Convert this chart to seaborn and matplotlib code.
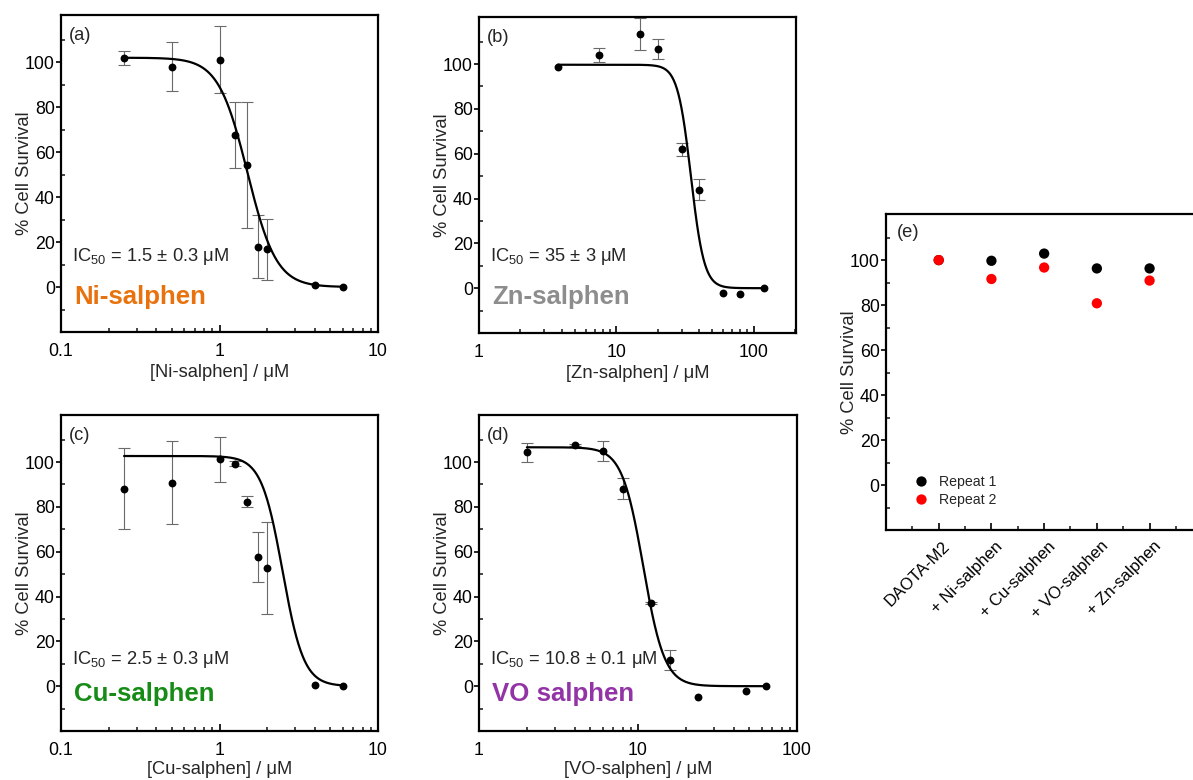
import numpy as np
import pandas as pd
import matplotlib
matplotlib.use("Agg")
import matplotlib.pyplot as plt
import matplotlib.transforms as mtransforms
from matplotlib.ticker import FixedLocator, FuncFormatter, NullFormatter, LogLocator
import seaborn as sns

# ---- dose-response data: concentration (uM), % survival, error ----
ni_conc = [0.25, 0.5, 1.0, 1.25, 1.5, 1.75, 2.0, 4.0, 6.0]
ni_surv = [101.9, 98.0, 101.2, 67.6, 54.4, 17.9, 16.7, 0.7, 0.0]
ni_err = [3.0, 11.0, 15.0, 14.5, 28.0, 14.0, 13.4, 0.0, 0.0]

zn_conc = [3.75, 7.5, 15.0, 20.0, 30.0, 40.0, 60.0, 80.0, 120.0]
zn_surv = [98.9, 104.0, 113.4, 106.6, 62.0, 43.9, -2.1, -2.4, 0.0]
zn_err = [0.0, 3.0, 7.0, 4.5, 3.0, 4.6, 0.0, 0.0, 0.0]

cu_conc = [0.25, 0.5, 1.0, 1.25, 1.5, 1.75, 2.0, 4.0, 6.0]
cu_surv = [88.2, 90.8, 101.3, 99.3, 82.4, 57.6, 52.8, 0.4, 0.0]
cu_err = [18.0, 18.4, 10.0, 1.0, 2.5, 11.0, 20.6, 0.0, 0.0]

vo_conc = [2.0, 4.0, 6.0, 8.0, 12.0, 16.0, 24.0, 48.0, 64.0]
vo_surv = [104.3, 107.6, 105.1, 88.2, 37.0, 11.8, -4.8, -2.1, 0.0]
vo_err = [4.3, 0.5, 4.5, 4.6, 0.5, 4.4, 0.0, 0.0, 0.0]

# ---- four-parameter logistic fits (Ni, Zn, Cu, VO) ----
fit_top = [102.0, 99.7, 102.7, 106.6]
fit_bottom = [0.0, 0.0, 0.0, 0.0]
fit_ic50 = [1.5, 35.0, 2.5, 10.8]
fit_ic50_err = [0.3, 3.0, 0.3, 0.1]
fit_hill = [4.75, 9.0, 6.5, 6.5]

# ---- combination screen ----
combo_labels = ["DAOTA-M2", "+ Ni-salphen", "+ Cu-salphen", "+ VO-salphen", "+ Zn-salphen"]
repeat1 = [100.0, 99.7, 102.9, 96.3, 96.3]
repeat2 = [100.0, 91.6, 96.7, 80.8, 90.9]

sns.set_theme(style="ticks")
plt.rcParams["font.family"] = ["Liberation Sans", "DejaVu Sans"]
plt.rcParams["mathtext.default"] = "regular"

TICK_FS = 12.8
LABEL_FS = 13.2
W, H = 1193, 780

fig = plt.figure(figsize=(W / 100, H / 100), dpi=100)


def px_axes(left, top, right, bottom):
    return fig.add_axes([left / W, 1 - bottom / H, (right - left) / W, (bottom - top) / H])


def style_frame(ax, ylim):
    for sp in ax.spines.values():
        sp.set_linewidth(1.6)
        sp.set_color("black")
    ax.set_ylim(*ylim)
    ax.set_yticks([0, 20, 40, 60, 80, 100])
    ax.yaxis.set_minor_locator(FixedLocator([-10, 10, 30, 50, 70, 90, 110]))
    ax.tick_params(axis="y", which="major", direction="out", length=3.5, width=1.2,
                   pad=1.0, labelsize=TICK_FS, colors="black")
    ax.tick_params(axis="y", which="minor", direction="in", length=3, width=1.2)
    ax.tick_params(axis="x", which="major", direction="in", length=5, width=1.2,
                   pad=8, labelsize=TICK_FS, colors="black")
    ax.tick_params(axis="x", which="minor", direction="in", length=3, width=1.2)
    ax.set_ylabel("% Cell Survival", fontsize=LABEL_FS, labelpad=-5.5)


def dose_panel(ax, conc, surv, err, k, xlim, xlabel, letter, name, name_color, txt_y,
               name_y, xlabelpad):
    conc = np.asarray(conc, float)
    surv = np.asarray(surv, float)
    err = np.asarray(err, float)
    ax.set_xscale("log")

    has_err = err > 0
    ax.errorbar(conc[has_err], surv[has_err], yerr=err[has_err], fmt="none",
                ecolor="#6a6a6a", elinewidth=0.8, capsize=4.5, capthick=0.8, zorder=1)

    xs = np.geomspace(conc.min(), conc.max(), 400)
    top, bot, ic50, hill = fit_top[k], fit_bottom[k], fit_ic50[k], fit_hill[k]
    curve = pd.DataFrame({"conc": xs, "surv": bot + (top - bot) / (1 + (xs / ic50) ** hill)})
    sns.lineplot(data=curve, x="conc", y="surv", ax=ax, color="black", linewidth=1.6,
                 errorbar=None, zorder=2)

    pts = pd.DataFrame({"conc": conc, "surv": surv})
    sns.scatterplot(data=pts, x="conc", y="surv", ax=ax, color="black", s=32,
                    linewidth=0, zorder=3)

    ax.set_xlim(*xlim)
    ax.xaxis.set_major_locator(LogLocator(base=10))
    ax.xaxis.set_minor_locator(LogLocator(base=10, subs=np.arange(2, 10)))
    ax.xaxis.set_major_formatter(FuncFormatter(lambda v, p: f"{v:g}"))
    ax.xaxis.set_minor_formatter(NullFormatter())
    style_frame(ax, (-20, 121))
    ax.set_xlabel(xlabel, fontsize=LABEL_FS, labelpad=xlabelpad)

    ax.text(0.025, 0.935, letter, transform=ax.transAxes, fontsize=LABEL_FS, va="center")
    ax.text(0.036, txt_y,
            f"IC$_{{50}}$ = {fit_ic50[k]:g} ± {fit_ic50_err[k]:g} μM",
            transform=ax.transAxes, fontsize=LABEL_FS, va="center")
    ax.text(0.041, name_y, name, transform=ax.transAxes, fontsize=18.6,
            fontweight="bold", color=name_color, va="center")


ax_a = px_axes(61, 15, 378, 332)
dose_panel(ax_a, ni_conc, ni_surv, ni_err, 0, (0.1, 10), "[Ni-salphen] / μM", "(a)",
           "Ni-salphen", "#E8730E", 0.238, 0.111, 3)

ax_b = px_axes(479, 17, 796, 333)
dose_panel(ax_b, zn_conc, zn_surv, zn_err, 1, (1, 204), "[Zn-salphen] / μM", "(b)",
           "Zn-salphen", "#8D8D8D", 0.241, 0.115, 3)

ax_c = px_axes(61, 415, 378, 731)
dose_panel(ax_c, cu_conc, cu_surv, cu_err, 2, (0.1, 10), "[Cu-salphen] / μM", "(c)",
           "Cu-salphen", "#168C16", 0.227, 0.117, 1)

ax_d = px_axes(479, 415, 797, 731)
dose_panel(ax_d, vo_conc, vo_surv, vo_err, 3, (1, 100), "[VO-salphen] / μM", "(d)",
           "VO salphen", "#9234A6", 0.227, 0.117, 1)

# ---- (e) combination screen ----
ax_e = px_axes(886, 214, 1255, 530)
combo = pd.DataFrame({
    "treatment": combo_labels * 2,
    "survival": repeat1 + repeat2,
    "repeat": ["Repeat 1"] * len(repeat1) + ["Repeat 2"] * len(repeat2),
})
sns.scatterplot(data=combo, x="treatment", y="survival", hue="repeat",
                palette={"Repeat 1": "black", "Repeat 2": "red"}, s=55, linewidth=0,
                ax=ax_e, zorder=3)
ax_e.set_xlim(-1, 6)
ax_e.set_xticks(range(len(combo_labels)))
ax_e.set_xticklabels(combo_labels, rotation=45, ha="right", va="center",
                     rotation_mode="anchor")
ax_e.xaxis.set_minor_locator(FixedLocator(np.arange(-0.5, 6, 1.0)))
style_frame(ax_e, (-20, 120.5))
ax_e.tick_params(axis="x", which="major", pad=10, labelsize=12)
shift = mtransforms.ScaledTranslation(9 / 100, 0, fig.dpi_scale_trans)
for lab in ax_e.get_xticklabels():
    lab.set_transform(lab.get_transform() + shift)
ax_e.set_xlabel("")
ax_e.text(0.03, 0.94, "(e)", transform=ax_e.transAxes, fontsize=LABEL_FS, va="center")
ax_e.legend(loc="lower left", bbox_to_anchor=(0.04, 0.055), frameon=False, fontsize=10.2,
            handletextpad=0.3, labelspacing=0.25, borderaxespad=0, markerscale=1.0)

fig.savefig("out.png", dpi=100)
